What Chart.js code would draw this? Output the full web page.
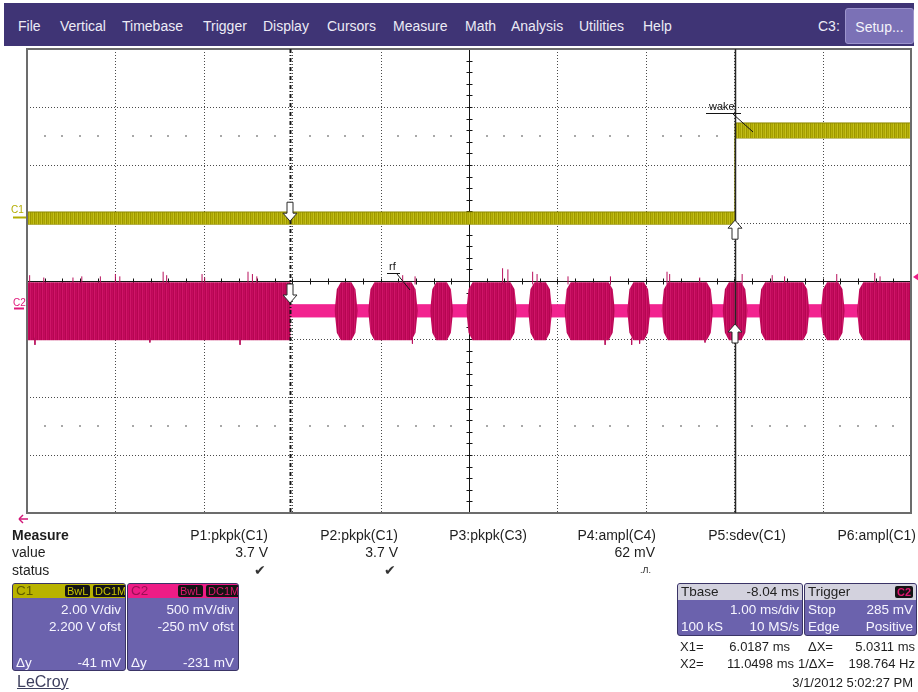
<!DOCTYPE html>
<html>
<head>
<meta charset="utf-8">
<script src="https://cdn.jsdelivr.net/npm/chart.js@4.4.1/dist/chart.umd.min.js"></script>
<style>
  html, body { margin: 0; padding: 0; }
  body { width: 918px; height: 692px; background: #fff; position: relative; overflow: hidden;
         font-family: "Liberation Sans", Arial, sans-serif; color: #1c1c1c; }
  .a { position: absolute; white-space: nowrap; }
  #menubar { position: absolute; left: 4px; top: 3px; width: 910px; height: 43px; background: #3f3475; }
  .mi { position: absolute; top: 0; line-height: 47px; font-size: 14px; color: #ecebf5; }
  #setup { position: absolute; left: 841px; top: 5px; width: 67px; height: 34px; background: #7b71b6;
           border: 1px solid #9c94cc; border-radius: 3px; color: #f4f3fa; font-size: 14px; line-height: 36px; text-align: center; }
  #scope { position: absolute; left: 0; top: 0; }
  .m { position: absolute; font-size: 14px; line-height: 16px; white-space: nowrap; color: #1e1e1e; }
  .box { position: absolute; background: #6b62ad; border: 1px solid #3a3466; border-radius: 3px; overflow: hidden; }
  .bh { position: absolute; left: 0; top: 0; right: 0; height: 14px; }
  .bt { position: absolute; font-size: 13.5px; line-height: 16px; color: #f6f5ff; white-space: nowrap; }
  .badge { position: absolute; top: 1px; height: 12px; background: #141414; border-radius: 2px; font-size: 11px;
           line-height: 12px; padding: 0 2px; }
  .r { font-size: 13px; line-height: 16px; color: #1e1e1e; position: absolute; white-space: nowrap; }
</style>
</head>
<body>
<div id="menubar">
  <span class="mi" style="left:14px">File</span>
  <span class="mi" style="left:56px">Vertical</span>
  <span class="mi" style="left:118px">Timebase</span>
  <span class="mi" style="left:199px">Trigger</span>
  <span class="mi" style="left:259px">Display</span>
  <span class="mi" style="left:323px">Cursors</span>
  <span class="mi" style="left:389px">Measure</span>
  <span class="mi" style="left:461px">Math</span>
  <span class="mi" style="left:507px">Analysis</span>
  <span class="mi" style="left:575px">Utilities</span>
  <span class="mi" style="left:639px">Help</span>
  <span class="mi" style="left:814px">C3:</span>
  <div id="setup">Setup...</div>
</div>

<canvas id="scope" width="918" height="692"></canvas>

<!-- measurement table -->
<div class="m" style="left:12px;top:527px;font-weight:bold">Measure</div>
<div class="m" style="left:12px;top:544px">value</div>
<div class="m" style="left:12px;top:562px">status</div>
<div class="m" style="right:650px;top:527px">P1:pkpk(C1)</div>
<div class="m" style="right:650px;top:544px">3.7 V</div>
<div class="m" style="right:652px;top:562px;color:#333">&#10004;</div>
<div class="m" style="right:520px;top:527px">P2:pkpk(C1)</div>
<div class="m" style="right:520px;top:544px">3.7 V</div>
<div class="m" style="right:522px;top:562px;color:#333">&#10004;</div>
<div class="m" style="right:391px;top:527px">P3:pkpk(C3)</div>
<div class="m" style="right:262px;top:527px">P4:ampl(C4)</div>
<div class="m" style="right:263px;top:544px">62 mV</div>
<div class="m" style="right:267px;top:562px;font-size:9px">.&#1051;.</div>
<div class="m" style="right:132px;top:527px">P5:sdev(C1)</div>
<div class="m" style="right:2px;top:527px">P6:ampl(C1)</div>

<!-- channel descriptor boxes -->
<div class="box" style="left:12px;top:583px;width:112px;height:86px">
  <div class="bh" style="background:#b9b300"></div>
  <span class="bt" style="left:3px;top:-1px;color:#5e5a00">C1</span>
  <span class="badge" style="left:52px;color:#c9c400">BwL</span>
  <span class="badge" style="left:80px;color:#c9c400">DC1M</span>
  <span class="bt" style="right:4px;top:18px">2.00 V/div</span>
  <span class="bt" style="right:4px;top:35px">2.200 V ofst</span>
  <span class="bt" style="left:3px;top:71px">&Delta;y</span>
  <span class="bt" style="right:4px;top:71px">-41 mV</span>
</div>
<div class="box" style="left:127px;top:583px;width:110px;height:86px">
  <div class="bh" style="background:#ee1c86"></div>
  <span class="bt" style="left:3px;top:-1px;color:#9a0f55">C2</span>
  <span class="badge" style="left:50px;color:#e0176f">BwL</span>
  <span class="badge" style="left:78px;color:#e0176f">DC1M</span>
  <span class="bt" style="right:4px;top:18px">500 mV/div</span>
  <span class="bt" style="right:4px;top:35px">-250 mV ofst</span>
  <span class="bt" style="left:3px;top:71px">&Delta;y</span>
  <span class="bt" style="right:4px;top:71px">-231 mV</span>
</div>
<div class="a" style="left:17px;top:673px;font-size:16px;color:#3d3f5e;text-decoration:underline">LeCroy</div>

<!-- timebase / trigger boxes -->
<div class="box" style="left:677px;top:583px;width:124px;height:51px">
  <div class="bh" style="background:#d3d2de;height:16px"></div>
  <span class="bt" style="left:3px;top:0px;color:#222">Tbase</span>
  <span class="bt" style="right:3px;top:0px;color:#222">-8.04 ms</span>
  <span class="bt" style="right:3px;top:18px">1.00 ms/div</span>
  <span class="bt" style="left:3px;top:35px">100 kS</span>
  <span class="bt" style="right:3px;top:35px">10 MS/s</span>
</div>
<div class="box" style="left:804px;top:583px;width:111px;height:51px">
  <div class="bh" style="background:#d3d2de;height:16px"></div>
  <span class="bt" style="left:3px;top:0px;color:#222">Trigger</span>
  <span class="badge" style="right:3px;top:2px;color:#e0176f;font-weight:bold">C2</span>
  <span class="bt" style="left:3px;top:18px">Stop</span>
  <span class="bt" style="right:3px;top:18px">285 mV</span>
  <span class="bt" style="left:3px;top:35px">Edge</span>
  <span class="bt" style="right:3px;top:35px">Positive</span>
</div>

<!-- cursor readout -->
<div class="r" style="left:680px;top:639px">X1=</div>
<div class="r" style="right:128px;top:639px">6.0187 ms</div>
<div class="r" style="left:808px;top:639px">&Delta;X=</div>
<div class="r" style="right:3px;top:639px">5.0311 ms</div>
<div class="r" style="left:680px;top:656px">X2=</div>
<div class="r" style="right:124px;top:656px">11.0498 ms</div>
<div class="r" style="left:798px;top:656px">1/&Delta;X=</div>
<div class="r" style="right:3px;top:656px">198.764 Hz</div>
<div class="r" style="right:5px;top:675px">3/1/2012 5:02:27 PM</div>

<script>
// ---- acquisition settings ----
const T_LEFT = 3.04;        // ms at the left graticule edge
const MS_PER_DIV = 1.0;
const X_DIVS = 10;
const Y_DIVS = 4;           // divisions above / below centre
const C1_VDIV = 2.0, C1_OFST = 2.2;     // V/div, V offset
const C2_VDIV = 0.5, C2_OFST = -0.25;
const TRIG_LEVEL = 0.285;   // V on C2
const CURSOR_X1 = 6.0187, CURSOR_X2 = 11.0498;   // ms

// ---- C1 "wake": band edges (V) ----
const c1Times = [3.04, 11.05, 11.05, 13.04];
const c1High  = [0.18, 0.18, 3.25, 3.25];
const c1Low   = [-0.24, -0.24, 2.73, 2.73];

// ---- C2 "rf": burst windows (ms) and envelope levels (V) ----
const burstStart = [3.04, 6.52, 6.90, 7.60, 8.01, 8.71, 9.12, 9.83, 10.22, 10.91, 11.32, 12.02, 12.43];
const burstEnd   = [6.02, 6.78, 7.46, 7.86, 8.58, 8.98, 9.69, 10.09, 10.80, 11.19, 11.89, 12.29, 13.04];
const burstHigh = 0.24, burstLow = -0.26;
const quietHigh = 0.045, quietLow = -0.06;
const quietTimes = [3.04, 13.04];

// noise spikes on the burst envelope (ms, V)
const spikeUpTimes = [3.07, 3.23, 3.56, 3.66, 3.87, 4.04, 4.09, 4.58, 4.62, 5.02, 5.05, 5.54, 5.59, 5.64,
                      7.29, 7.43, 8.42, 8.48, 8.76, 8.81, 9.16, 9.64, 10.28, 10.31, 10.65, 11.13, 11.47,
                      11.61, 12.20, 12.63, 12.69];
const spikeUpPeaks = [0.30, 0.28, 0.28, 0.29, 0.29, 0.31, 0.29, 0.33, 0.30, 0.31, 0.28, 0.33, 0.31, 0.29,
                      0.30, 0.29, 0.36, 0.35, 0.33, 0.31, 0.29, 0.29, 0.33, 0.31, 0.28, 0.31, 0.30,
                      0.29, 0.31, 0.32, 0.29];
const spikeDnTimes = [3.13, 4.43, 5.45, 7.40, 9.58, 9.88, 9.97, 10.71];
const spikeDnPeaks = [-0.30, -0.28, -0.30, -0.29, -0.30, -0.30, -0.29, -0.28];

const RAMP = 0.07;   // ms, taper at burst edges

const c1 = v => (v + C1_OFST) / C1_VDIV;
const c2 = v => (v + C2_OFST) / C2_VDIV;

function stripes(colors) {
  const c = document.createElement('canvas');
  c.width = colors.length; c.height = 1;
  const g = c.getContext('2d');
  colors.forEach((col, i) => { g.fillStyle = col; g.fillRect(i, 0, 1, 1); });
  return document.getElementById('scope').getContext('2d').createPattern(c, 'repeat');
}

function burstEdge(level) {
  const mid = (quietHigh + quietLow) / 2;
  const pts = [];
  burstStart.forEach((s, i) => {
    const e = burstEnd[i];
    const rin = s > T_LEFT ? RAMP : 0;
    const rout = (i > 0 && e < T_LEFT + X_DIVS * MS_PER_DIV) ? RAMP : 0;
    pts.push({ x: s, y: mid });
    if (rin) pts.push({ x: s + rin * 0.35, y: mid + (level - mid) * 0.75 });
    pts.push({ x: s + rin, y: level });
    pts.push({ x: e - rout, y: level });
    if (rout) pts.push({ x: e - rout * 0.35, y: mid + (level - mid) * 0.75 });
    pts.push({ x: e, y: mid });
  });
  return pts.map(p => ({ x: p.x, y: c2(p.y) }));
}

function spikes(times, peaks, base) {
  const out = [];
  times.forEach((t, i) => {
    out.push({ x: t, y: c2(base) }, { x: t, y: c2(peaks[i]) }, { x: t, y: null });
  });
  return out;
}

const line = (ctx, x0, y0, x1, y1) => { ctx.beginPath(); ctx.moveTo(x0, y0); ctx.lineTo(x1, y1); ctx.stroke(); };

// graticule: dotted divisions, centre axes with 0.2-div ticks, dot rows
const graticule = {
  id: 'graticule',
  beforeDatasetsDraw(chart) {
    const { ctx, chartArea: a, scales: { x, y } } = chart;
    ctx.save();
    ctx.lineWidth = 1;
    ctx.strokeStyle = '#4a4a4a';
    ctx.setLineDash([1, 2]);
    for (let i = 1; i < X_DIVS; i++) {
      if (i === X_DIVS / 2) continue;
      const px = Math.round(x.getPixelForValue(T_LEFT + i * MS_PER_DIV)) + 0.5;
      line(ctx, px, a.top, px, a.bottom);
    }
    for (let j = -Y_DIVS + 1; j < Y_DIVS; j++) {
      if (j === 0) continue;
      const py = Math.round(y.getPixelForValue(j)) + 0.5;
      line(ctx, a.left, py, a.right, py);
    }
    ctx.setLineDash([]);
    ctx.fillStyle = '#a8a8a8';
    [2.5, -2.5].forEach(row => {
      const py = Math.round(y.getPixelForValue(row));
      for (let k = 1; k < X_DIVS * 5; k++) {
        if (k % 5 === 0) continue;
        const px = Math.round(x.getPixelForValue(T_LEFT + k * 0.2 * MS_PER_DIV));
        ctx.fillRect(px - 1, py - 1, 2, 2);
      }
    });
    // centre cross
    ctx.strokeStyle = '#141414';
    const cy = Math.round(y.getPixelForValue(0)) + 0.5;
    const cx = Math.round(x.getPixelForValue(T_LEFT + X_DIVS / 2 * MS_PER_DIV)) + 0.5;
    line(ctx, a.left, cy, a.right, cy);
    line(ctx, cx, a.top, cx, a.bottom);
    for (let k = 1; k < X_DIVS * 5; k++) {
      const px = Math.round(x.getPixelForValue(T_LEFT + k * 0.2 * MS_PER_DIV)) + 0.5;
      line(ctx, px, cy - 3, px, cy + 3);
    }
    for (let k = -Y_DIVS * 5 + 1; k < Y_DIVS * 5; k++) {
      const py = Math.round(y.getPixelForValue(k * 0.2)) + 0.5;
      line(ctx, cx - 3, py, cx + 3, py);
    }
    ctx.restore();
  },
  afterDatasetsDraw(chart) {
    const { ctx, chartArea: a, scales: { x, y } } = chart;
    ctx.save();
    // frame
    ctx.strokeStyle = '#6c6c6c';
    ctx.lineWidth = 2;
    ctx.strokeRect(a.left, a.top, a.right - a.left, a.bottom - a.top);

    // cursors
    const x1 = Math.round(x.getPixelForValue(CURSOR_X1)) + 0.5;
    const x2 = Math.round(x.getPixelForValue(CURSOR_X2)) + 0.5;
    ctx.strokeStyle = '#161616';
    ctx.lineWidth = 2;
    ctx.setLineDash([4, 2, 1, 2]);
    line(ctx, x1, a.top, x1, a.bottom);
    ctx.setLineDash([]);
    ctx.lineWidth = 1.5;
    ctx.strokeStyle = '#262626';
    line(ctx, x2, a.top, x2, a.bottom);

    // cursor markers where they cross the traces
    const arrow = (px, tip, dir) => {   // dir 1 = points down, -1 = points up
      const h = 19, hh = 8, sw = 3, hw = 7;
      const base = tip - dir * h, neck = tip - dir * hh;
      ctx.beginPath();
      ctx.moveTo(px - sw, base);
      ctx.lineTo(px + sw, base);
      ctx.lineTo(px + sw, neck);
      ctx.lineTo(px + hw, neck);
      ctx.lineTo(px, tip);
      ctx.lineTo(px - hw, neck);
      ctx.lineTo(px - sw, neck);
      ctx.closePath();
      ctx.fillStyle = '#ffffff';
      ctx.fill();
      ctx.strokeStyle = '#2a2a2a';
      ctx.lineWidth = 1;
      ctx.stroke();
    };
    arrow(x1 - 0.5, y.getPixelForValue(c1(0)) + 4, 1);
    arrow(x1 - 0.5, y.getPixelForValue(c2(0)) - 7, 1);
    arrow(x2 - 0.5, y.getPixelForValue(c1(0)) + 3, -1);
    arrow(x2 - 0.5, y.getPixelForValue(c2(0)) + 14, -1);

    // trace labels
    ctx.font = '11px "Liberation Sans", Arial, sans-serif';
    ctx.fillStyle = '#141414';
    ctx.textBaseline = 'alphabetic';
    ctx.fillText('wake', 709, 110);
    ctx.strokeStyle = '#141414';
    ctx.lineWidth = 1;
    line(ctx, 706, 113.5, 741, 113.5);
    line(ctx, 733, 114, 753, 132);
    ctx.fillText('rf', 389, 270);
    line(ctx, 387, 273.5, 400, 273.5);
    line(ctx, 397, 274, 410, 290);

    // channel ground markers
    const g1 = Math.round(y.getPixelForValue(c1(0))) + 0.5;
    const g2 = Math.round(y.getPixelForValue(c2(0))) - 1.5;
    ctx.font = '10px "Liberation Sans", Arial, sans-serif';
    ctx.fillStyle = '#b3ad00';
    ctx.fillText('C1', 11, g1 - 5);
    ctx.strokeStyle = '#b3ad00';
    ctx.lineWidth = 2;
    line(ctx, 13, g1, a.left - 1, g1);
    ctx.fillStyle = '#e0177a';
    ctx.fillText('C2', 13, g2 - 3);
    ctx.strokeStyle = '#e0177a';
    line(ctx, 14, g2, 24, g2);

    // trigger level marker on the right edge
    const ty = y.getPixelForValue(c2(TRIG_LEVEL));
    ctx.fillStyle = '#ee1c86';
    ctx.beginPath();
    ctx.moveTo(a.right + 2, ty);
    ctx.lineTo(a.right + 8, ty - 4);
    ctx.lineTo(a.right + 8, ty + 4);
    ctx.closePath();
    ctx.fill();

    // trigger position off-screen to the left
    ctx.strokeStyle = '#d21677';
    ctx.lineWidth = 1.5;
    line(ctx, 19, 519, 28, 519);
    line(ctx, 19, 519, 23, 515);
    line(ctx, 19, 519, 23, 523);
    ctx.restore();
  }
};

const c1Hi = c1Times.map((t, i) => ({ x: t, y: c1(c1High[i]) }));
const c1Lo = c1Times.map((t, i) => ({ x: t, y: c1(c1Low[i]) }));
const qHi = quietTimes.map(t => ({ x: t, y: c2(quietHigh) }));
const qLo = quietTimes.map(t => ({ x: t, y: c2(quietLow) }));

const burstFill = stripes(['#c40a5d', '#b50651', '#cf1668', '#bd0858']);
const c1Fill = stripes(['#a9a300', '#c3be1d', '#9c9600', '#b6b10a']);

const common = { pointRadius: 0, tension: 0, spanGaps: false };

new Chart(document.getElementById('scope'), {
  type: 'line',
  data: {
    datasets: [
      { ...common, data: spikes(spikeUpTimes, spikeUpPeaks, burstHigh - 0.02), borderColor: '#b8105c', borderWidth: 1, fill: false },
      { ...common, data: spikes(spikeDnTimes, spikeDnPeaks, burstLow + 0.02), borderColor: '#b8105c', borderWidth: 1, fill: false },
      { ...common, data: burstEdge(burstHigh), borderColor: 'rgba(0,0,0,0)', borderWidth: 0, fill: '+1', backgroundColor: burstFill },
      { ...common, data: burstEdge(burstLow), borderColor: 'rgba(0,0,0,0)', borderWidth: 0, fill: false },
      { ...common, data: qHi, borderColor: '#f0208f', borderWidth: 1, fill: '+1', backgroundColor: '#f2238f' },
      { ...common, data: qLo, borderColor: '#f0208f', borderWidth: 1, fill: false },
      { ...common, data: c1Hi, borderColor: '#8f8a00', borderWidth: 1, fill: '+1', backgroundColor: c1Fill },
      { ...common, data: c1Lo, borderColor: '#8f8a00', borderWidth: 1, fill: false }
    ]
  },
  options: {
    responsive: false,
    animation: false,
    events: [],
    layout: { padding: { left: 27, top: 49, right: 7, bottom: 179 } },
    scales: {
      x: { type: 'linear', display: false, min: T_LEFT, max: T_LEFT + X_DIVS * MS_PER_DIV },
      y: { type: 'linear', display: false, min: -Y_DIVS, max: Y_DIVS }
    },
    plugins: { legend: { display: false }, tooltip: { enabled: false } }
  },
  plugins: [graticule]
});
</script>
</body>
</html>
